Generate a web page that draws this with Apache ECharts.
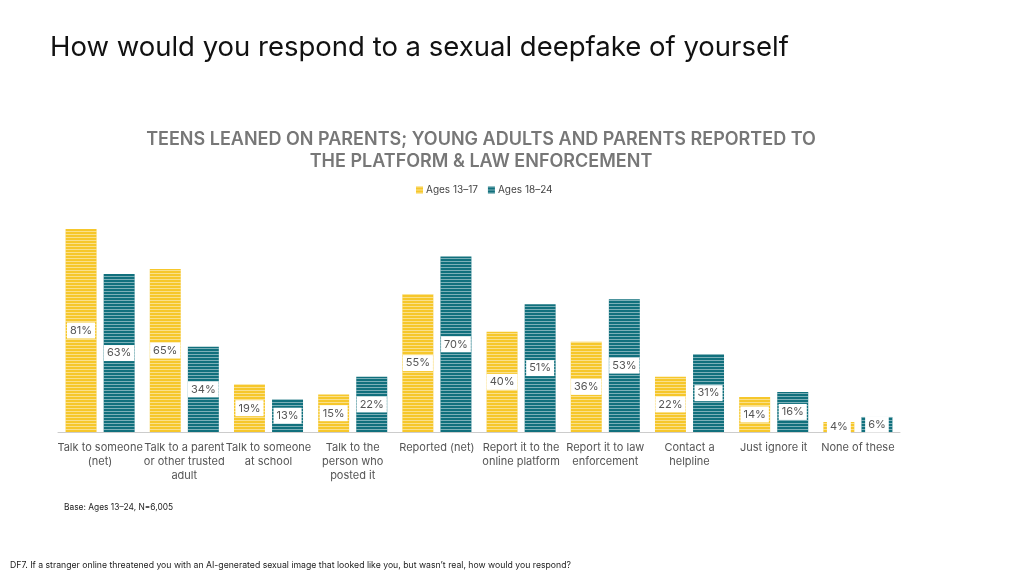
<!DOCTYPE html>
<html>
<head>
<meta charset="utf-8">
<script src="https://cdn.jsdelivr.net/npm/echarts@6/dist/echarts.min.js"></script>
<style>
  html, body { margin: 0; padding: 0; background: #fff; }
  #main { width: 1024px; height: 576px; }
</style>
</head>
<body>
<div id="main"></div>
<script>
const categories = [
  'Talk to someone\n(net)',
  'Talk to a parent\nor other trusted\nadult',
  'Talk to someone\nat school',
  'Talk to the\nperson who\nposted it',
  'Reported (net)',
  'Report it to the\nonline platform',
  'Report it to law\nenforcement',
  'Contact a\nhelpline',
  'Just ignore it',
  'None of these'
];
const teens = [81, 65, 19, 15, 55, 40, 36, 22, 14, 4];
const youngAdults = [63, 34, 13, 22, 70, 51, 53, 31, 16, 6];
const seriesNames = ['Ages 13\u201317', 'Ages 18\u201324'];

const chart = echarts.init(document.getElementById('main'));

// white horizontal stripes over the bars
const stripes = {
  symbol: 'rect',
  symbolSize: 1,
  dashArrayX: [1, 0],
  dashArrayY: [1, 2],
  rotation: 0,
  color: 'rgba(255,255,255,0.45)'
};

const valueLabel = {
  show: true,
  position: 'inside',
  formatter: '{c}%',
  color: '#555',
  fontSize: 11,
  fontFamily: 'Inter',
  backgroundColor: '#fff',
  padding: [3, 3, 2, 3]
};

const option = {
  animation: false,
  title: [
    {
      text: 'How would you respond to a sexual deepfake of yourself',
      left: 50,
      top: 34,
      padding: 0,
      textStyle: { fontSize: 27.5, fontWeight: 'normal', color: '#111', fontFamily: 'Inter' }
    },
    {
      text: 'TEENS LEANED ON PARENTS; YOUNG ADULTS AND PARENTS REPORTED TO\nTHE PLATFORM & LAW ENFORCEMENT',
      left: 481,
      textAlign: 'center',
      top: 129,
      padding: 0,
      textStyle: { fontSize: 18, fontWeight: 600, color: '#777', fontFamily: 'Inter', lineHeight: 22 }
    },
    {
      text: 'Base: Ages 13\u201324, N=6,005',
      left: 64,
      top: 503,
      padding: 0,
      textStyle: { fontSize: 8.4, fontWeight: 'normal', color: '#222', fontFamily: 'Inter' }
    },
    {
      text: 'DF7. If a stranger online threatened you with an AI-generated sexual image that looked like you, but wasn\u2019t real, how would you respond?',
      left: 10,
      top: 561,
      padding: 0,
      textStyle: { fontSize: 8.7, fontWeight: 'normal', color: '#222', fontFamily: 'Inter' }
    }
  ],
  legend: {
    data: seriesNames,
    top: 180,
    left: 411,
    itemWidth: 7,
    itemHeight: 7,
    itemGap: 10,
    icon: 'rect',
    textStyle: { fontSize: 10, color: '#444', fontFamily: 'Inter', padding: [0, 0, 0, -2] }
  },
  grid: { left: 58, right: 124, top: 229, bottom: 144 },
  xAxis: {
    type: 'category',
    data: categories,
    axisTick: { show: false },
    axisLine: { lineStyle: { color: '#ccc', width: 1 } },
    axisLabel: {
      interval: 0,
      color: '#555',
      fontSize: 11,
      fontFamily: 'Inter',
      lineHeight: 14,
      margin: 9
    }
  },
  yAxis: {
    type: 'value',
    min: 0,
    max: 81,
    show: false,
    splitLine: { show: false }
  },
  series: [
    {
      name: seriesNames[0],
      type: 'bar',
      data: teens,
      barGap: '23%',
      barCategoryGap: '18%',
      itemStyle: { color: '#F6C72B', decal: stripes },
      label: valueLabel
    },
    {
      name: seriesNames[1],
      type: 'bar',
      data: youngAdults,
      itemStyle: { color: '#11707D', decal: stripes },
      label: valueLabel
    }
  ]
};

chart.setOption(option);
</script>
</body>
</html>
